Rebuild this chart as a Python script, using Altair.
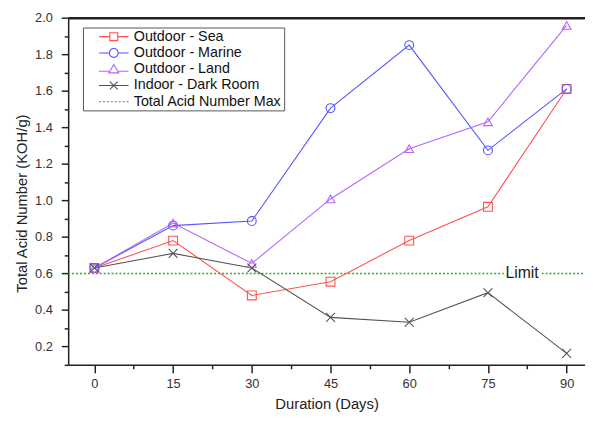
import altair as alt
import pandas as pd

days = [0, 15, 30, 45, 60, 75, 90]
sea = [0.63, 0.78, 0.48, 0.555, 0.78, 0.965, 1.61]
marine = [0.63, 0.862, 0.887, 1.505, 1.85, 1.274, 1.61]
land = [0.63, 0.876, 0.655, 1.008, 1.283, 1.43, 1.958]
indoor = [0.63, 0.71, 0.63, 0.36, 0.333, 0.495, 0.163]
limit_value = 0.6
limit_label = "Limit"

series_names = ["Outdoor - Sea", "Outdoor - Marine", "Outdoor - Land",
                "Indoor - Dark Room", "Total Acid Number Max"]
series_colors = ["#ff5252", "#5555ff", "#b366ff", "#555555", "#22b022"]

y_ticks = [0.2, 0.4, 0.6, 0.8, 1.0, 1.2, 1.4, 1.6, 1.8, 2.0]
y_minor = [0.1, 0.3, 0.5, 0.7, 0.9, 1.1, 1.3, 1.5, 1.7, 1.9]
x_ticks = [0, 15, 30, 45, 60, 75, 90]
x_minor = [7.5, 22.5, 37.5, 52.5, 67.5, 82.5]

FONT = "Liberation Sans"

series_values = [sea, marine, land, indoor]
rows = []
for name, vals in zip(series_names[:4], series_values):
    for d, v in zip(days, vals):
        rows.append({"day": d, "tan": v, "series": name})
df = pd.DataFrame(rows)

limit_df = pd.DataFrame({"day": [-5, 93.5], "tan": [limit_value, limit_value]})

# legend symbol paths (line + marker)
leg_paths = [
    "M-3,0L-0.8,0M0.8,0L3,0M-0.8,-0.8L0.8,-0.8L0.8,0.8L-0.8,0.8Z",
    "M-3,0L-0.9,0M0.9,0L3,0M-0.9,0A0.9,0.9 0 1,0 0.9,0A0.9,0.9 0 1,0 -0.9,0Z",
    "M-3,0.4L-0.95,0.4M0.95,0.4L3,0.4M0,-0.95L1,0.75L-1,0.75Z",
    "M-3,0L3,0M-0.8,-0.8L0.8,0.8M-0.8,0.8L0.8,-0.8",
    "M-3,0L-2.6,0M-2.2,0L-1.8,0M-1.4,0L-1,0M-0.6,0L-0.2,0M0.2,0L0.6,0M1,0L1.4,0M1.8,0L2.2,0M2.6,0L3,0",
]
mark_shapes = ["square", "circle", "triangle-up", "M-1,-1L1,1M-1,1L1,-1"]

xscale = alt.Scale(domain=[-5, 93.5], nice=False, zero=False)
yscale = alt.Scale(domain=[0.1, 2.0], nice=False, zero=False)
cscale = alt.Scale(domain=series_names, range=series_colors)

x_axis = alt.Axis(values=x_ticks, title="Duration (Days)", orient="bottom",
                  tickSize=8, labelPadding=5, titlePadding=6, grid=False,
                  domainColor="#222", domainWidth=1.5, tickColor="#222", tickWidth=1.5,
                  labelFont=FONT, labelFontSize=13, labelColor="#333",
                  titleFont=FONT, titleFontSize=15, titleFontWeight="normal", titleColor="#222")
y_axis = alt.Axis(values=y_ticks, format=".1f", title="Total Acid Number (KOH/g)", orient="left",
                  tickSize=7, labelPadding=9, titlePadding=5, titleY=188, grid=False,
                  domainColor="#222", domainWidth=1.5, tickColor="#222", tickWidth=1.5,
                  labelFont=FONT, labelFontSize=13, labelColor="#333",
                  titleFont=FONT, titleFontSize=15, titleFontWeight="normal", titleColor="#222")

X = lambda ax=None: alt.X("day:Q", scale=xscale, axis=ax)
Y = lambda ax=None: alt.Y("tan:Q", scale=yscale, axis=ax)

lines = alt.Chart(df).mark_line(strokeWidth=1.1).encode(
    x=X(x_axis), y=Y(y_axis),
    color=alt.Color("series:N", scale=cscale, legend=None),
    detail="series:N",
)

point_layers = []
for name, shp in zip(series_names[:4], mark_shapes):
    point_layers.append(
        alt.Chart(df).transform_filter(alt.datum.series == name)
        .mark_point(filled=False, strokeWidth=1.1, size=80, opacity=1, shape=shp)
        .encode(x=X(), y=Y(), color=alt.Color("series:N", scale=cscale, legend=None))
    )

limit_line = alt.Chart(limit_df).mark_line(strokeWidth=1.3, strokeDash=[2, 2], opacity=1).encode(
    x=X(), y=Y(), color=alt.value(series_colors[4]))

txt_df = pd.DataFrame({"day": [81.5], "tan": [limit_value], "label": [limit_label]})
halo = alt.Chart(txt_df).mark_text(font=FONT, fontSize=16, color="white", stroke="white",
                                   strokeWidth=6, baseline="middle", align="center").encode(
    x=X(), y=Y(), text="label:N")
txt = alt.Chart(txt_df).mark_text(font=FONT, fontSize=16, color="#222",
                                  baseline="middle", align="center").encode(
    x=X(), y=Y(), text="label:N")

# minor ticks
minor_x = alt.Chart(pd.DataFrame({"day": [0]})).mark_point(opacity=0).encode(
    x=alt.X("day:Q", scale=xscale,
            axis=alt.Axis(values=x_minor, labels=False, title=None, domain=False, grid=False,
                          orient="bottom", tickSize=4, tickColor="#222", tickWidth=1.5)))
minor_y = alt.Chart(pd.DataFrame({"tan": [1.0]})).mark_point(opacity=0).encode(
    y=alt.Y("tan:Q", scale=yscale,
            axis=alt.Axis(values=y_minor, labels=False, title=None, domain=False, grid=False,
                          orient="left", tickSize=4, tickColor="#222", tickWidth=1.5)))
top_frame = alt.Chart(pd.DataFrame({"day": [0]})).mark_point(opacity=0).encode(
    x=alt.X("day:Q", scale=xscale,
            axis=alt.Axis(values=[], labels=False, ticks=False, title=None, grid=False,
                          orient="top", domainColor="#222", domainWidth=2.5)))

leg_opts = dict(title=None, orient="none", legendX=15, legendY=10, padding=2,
                symbolSize=100, symbolStrokeWidth=1.1, symbolOpacity=1, symbolOffset=22,
                labelOffset=13, rowPadding=1.5, labelFont=FONT, labelFontSize=14.5,
                labelColor="#111", strokeColor="#555", fillColor="white", labelLimit=300)
leg_df = pd.DataFrame({"series": series_names, "day": [0] * 5, "tan": [0.63] * 5})
legend_layer = alt.Chart(leg_df).mark_point(filled=False, opacity=0).encode(
    x=X(), y=Y(),
    color=alt.Color("series:N", scale=cscale, legend=alt.Legend(**leg_opts)),
    shape=alt.Shape("series:N", scale=alt.Scale(domain=series_names, range=leg_paths),
                    legend=alt.Legend(**leg_opts)),
)

chart = alt.layer(
    minor_x, minor_y, top_frame, limit_line, halo, txt, lines, *point_layers, legend_layer
).resolve_axis(x="independent", y="independent").resolve_legend(
    color="independent", shape="independent"
).properties(
    width=524, height=352,
    autosize=alt.AutoSizeParams(type="none"),
    padding={"left": 61, "top": 7, "right": 0, "bottom": 46},
).configure_view(stroke=None).configure(background="white")

chart.save("out.html", embed_options={"renderer": "svg", "actions": False})
